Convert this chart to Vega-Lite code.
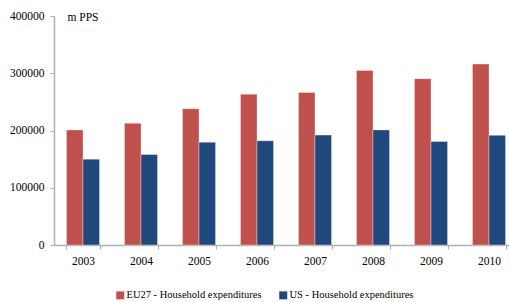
{
  "$schema": "https://vega.github.io/schema/vega-lite/v6.json",
  "autosize": "none",
  "width": 464,
  "height": 229,
  "padding": {"left": 54, "top": 16, "right": 0, "bottom": 57},
  "background": "white",
  "config": {
    "view": {"stroke": null},
    "font": "'Liberation Serif', 'Times New Roman', serif"
  },
  "data": {
    "values": [
      {"year": "2003", "series": "EU27 - Household expenditures", "value": 201000},
      {"year": "2003", "series": "US - Household expenditures", "value": 150000},
      {"year": "2004", "series": "EU27 - Household expenditures", "value": 212500},
      {"year": "2004", "series": "US - Household expenditures", "value": 158000},
      {"year": "2005", "series": "EU27 - Household expenditures", "value": 238000},
      {"year": "2005", "series": "US - Household expenditures", "value": 179500},
      {"year": "2006", "series": "EU27 - Household expenditures", "value": 263500},
      {"year": "2006", "series": "US - Household expenditures", "value": 182000},
      {"year": "2007", "series": "EU27 - Household expenditures", "value": 266500},
      {"year": "2007", "series": "US - Household expenditures", "value": 192000},
      {"year": "2008", "series": "EU27 - Household expenditures", "value": 305000},
      {"year": "2008", "series": "US - Household expenditures", "value": 201000},
      {"year": "2009", "series": "EU27 - Household expenditures", "value": 290500},
      {"year": "2009", "series": "US - Household expenditures", "value": 181000},
      {"year": "2010", "series": "EU27 - Household expenditures", "value": 316000},
      {"year": "2010", "series": "US - Household expenditures", "value": 191500}
    ]
  },
  "mark": {"type": "bar", "stroke": "#ffffff", "strokeOpacity": 0.5, "strokeWidth": 0.7},
  "encoding": {
    "x": {
      "field": "year",
      "type": "nominal",
      "scale": {"paddingInner": 0.43, "paddingOuter": 0.215},
      "axis": {
        "title": null,
        "labelAngle": 0,
        "labelFont": "'Liberation Serif', 'Times New Roman', serif",
        "labelFontSize": 11.5,
        "labelColor": "#000000",
        "labelPadding": 6,
        "domainColor": "#b0b0b0",
        "domainWidth": 1.5,
        "tickColor": "#b0b0b0",
        "tickSize": 4,
        "tickBand": "extent",
        "grid": false
      }
    },
    "xOffset": {"field": "series", "type": "nominal"},
    "y": {
      "field": "value",
      "type": "quantitative",
      "scale": {"domain": [0, 400000]},
      "axis": {
        "title": "m PPS",
        "titleAngle": 0,
        "titleX": 13,
        "titleY": 1,
        "titleAlign": "left",
        "titleBaseline": "middle",
        "titleFont": "'Liberation Serif', 'Times New Roman', serif",
        "titleFontSize": 11.5,
        "titleFontWeight": "normal",
        "titleColor": "#000000",
        "values": [0, 100000, 200000, 300000, 400000],
        "format": "d",
        "labelFont": "'Liberation Serif', 'Times New Roman', serif",
        "labelFontSize": 11.5,
        "labelColor": "#000000",
        "labelPadding": 6,
        "domainColor": "#b0b0b0",
        "domainWidth": 1.5,
        "tickColor": "#b0b0b0",
        "tickSize": 4,
        "grid": false
      }
    },
    "color": {
      "field": "series",
      "type": "nominal",
      "scale": {"range": ["#C0504D", "#1F497D"]},
      "legend": {
        "title": null,
        "orient": "none",
        "direction": "horizontal",
        "legendX": 61,
        "legendY": 274,
        "symbolType": "square",
        "symbolSize": 64,
        "symbolStrokeWidth": 0,
        "labelFont": "'Liberation Serif', 'Times New Roman', serif",
        "labelFontSize": 10.5,
        "labelColor": "#000000",
        "labelOffset": 1,
        "columnPadding": 16
      }
    }
  }
}
